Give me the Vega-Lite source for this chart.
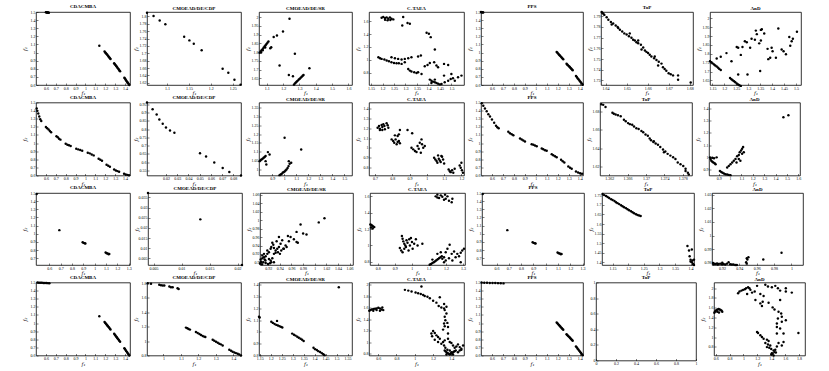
{
"$schema":"https://vega.github.io/schema/vega-lite/v6.json",
"padding":{"left":21,"top":3,"right":2,"bottom":0},
"background":"white",
"config":{
"view":{"stroke":"#000","strokeWidth":0.8},
"font":"Liberation Serif",
"title":{"fontSize":5,"fontWeight":"bold","offset":1,"font":"Liberation Serif","color":"#000"},
"axis":{"labelFontSize":4,"labelColor":"#000","tickColor":"#000","tickSize":-2,"tickWidth":0.5,"labelPadding":3,"domain":false,"grid":false,"titleFontSize":5,"titleFontStyle":"italic","titleFontWeight":"normal","titleColor":"#000","titlePadding":0,"labelFlush":false,"labelOverlap":false,"titleFont":"DejaVu Serif","labelFont":"Liberation Serif","format":"~g"},
"axisX":{"minExtent":5.5,"maxExtent":5.5},
"axisY":{"minExtent":9,"maxExtent":9},
"circle":{"size":6,"color":"#000","opacity":1}
},
"vconcat":[
{"hconcat":[
{"title":"CDACMBA","width":94,"height":73,"data":{"values":[{"x":0.6,"y":1.497},{"x":0.605,"y":1.496},{"x":0.61,"y":1.495},{"x":0.615,"y":1.494},{"x":0.62,"y":1.493},{"x":0.625,"y":1.492},{"x":0.63,"y":1.49},{"x":1.14,"y":1.083},{"x":1.193,"y":1.012},{"x":1.2,"y":1.002},{"x":1.207,"y":0.991},{"x":1.213,"y":0.982},{"x":1.22,"y":0.972},{"x":1.227,"y":0.962},{"x":1.233,"y":0.951},{"x":1.24,"y":0.941},{"x":1.247,"y":0.931},{"x":1.253,"y":0.921},{"x":1.29,"y":0.868},{"x":1.297,"y":0.857},{"x":1.303,"y":0.846},{"x":1.31,"y":0.835},{"x":1.317,"y":0.824},{"x":1.323,"y":0.813},{"x":1.33,"y":0.802},{"x":1.337,"y":0.791},{"x":1.343,"y":0.78},{"x":1.35,"y":0.769},{"x":1.393,"y":0.69},{"x":1.399,"y":0.679},{"x":1.405,"y":0.668},{"x":1.411,"y":0.657},{"x":1.418,"y":0.645},{"x":1.424,"y":0.634},{"x":1.43,"y":0.623},{"x":1.437,"y":0.612},{"x":1.443,"y":0.601}]},
"mark":"circle","encoding":{"x":{"field":"x","type":"quantitative","title":"f₁","scale":{"domain":[0.5,1.45],"nice":false},"axis":{"values":[0.6,0.7,0.8,0.9,1,1.1,1.2,1.3,1.4]}},"y":{"field":"y","type":"quantitative","title":"f₂","scale":{"domain":[0.6,1.5],"nice":false},"axis":{"values":[0.6,0.7,0.8,0.9,1,1.1,1.2,1.3,1.4,1.5]}}}},
{"title":"CMOEAD/DE/CDP","width":94,"height":73,"data":{"values":[{"x":1.054,"y":1.81},{"x":1.069,"y":1.801},{"x":1.083,"y":1.789},{"x":1.096,"y":1.779},{"x":1.139,"y":1.745},{"x":1.151,"y":1.735},{"x":1.161,"y":1.726},{"x":1.179,"y":1.708},{"x":1.227,"y":1.658},{"x":1.24,"y":1.647},{"x":1.254,"y":1.628},{"x":1.268,"y":1.615}]},
"mark":"circle","encoding":{"x":{"field":"x","type":"quantitative","title":"f₁","scale":{"domain":[1.054,1.269],"nice":false},"axis":{"values":[1.1,1.15,1.2,1.25]}},"y":{"field":"y","type":"quantitative","title":"f₂","scale":{"domain":[1.614,1.812],"nice":false},"axis":{"values":[1.62,1.64,1.66,1.68,1.7,1.72,1.74,1.76,1.78,1.8]}}}},
{"title":"CMOEAD/DE/SR","width":93,"height":73,"data":{"values":[{"x":1.056,"y":1.796},{"x":1.062,"y":1.803},{"x":1.068,"y":1.81},{"x":1.074,"y":1.817},{"x":1.08,"y":1.825},{"x":1.086,"y":1.832},{"x":1.092,"y":1.839},{"x":1.098,"y":1.846},{"x":1.104,"y":1.853},{"x":1.11,"y":1.86},{"x":1.065,"y":1.798},{"x":1.075,"y":1.81},{"x":1.09,"y":1.826},{"x":1.121,"y":1.822},{"x":1.127,"y":1.828},{"x":1.142,"y":1.886},{"x":1.162,"y":1.895},{"x":1.199,"y":1.918},{"x":1.239,"y":1.991},{"x":1.272,"y":1.79},{"x":1.178,"y":1.723},{"x":1.235,"y":1.669},{"x":1.26,"y":1.662},{"x":1.361,"y":1.708},{"x":1.266,"y":1.614},{"x":1.272,"y":1.62},{"x":1.278,"y":1.626},{"x":1.284,"y":1.632},{"x":1.29,"y":1.637},{"x":1.296,"y":1.643},{"x":1.302,"y":1.648},{"x":1.308,"y":1.654},{"x":1.314,"y":1.659},{"x":1.32,"y":1.665},{"x":1.325,"y":1.669}]},
"mark":"circle","encoding":{"x":{"field":"x","type":"quantitative","title":"f₁","scale":{"domain":[1.052,1.622],"nice":false},"axis":{"values":[1.1,1.2,1.3,1.4,1.5,1.6]}},"y":{"field":"y","type":"quantitative","title":"f₂","scale":{"domain":[1.612,2.029],"nice":false},"axis":{"values":[1.65,1.7,1.75,1.8,1.85,1.9,1.95,2]}}}},
{"title":"C-TAEA","width":95,"height":73,"data":{"values":[{"x":1.196,"y":1.652},{"x":1.203,"y":1.662},{"x":1.211,"y":1.647},{"x":1.218,"y":1.657},{"x":1.225,"y":1.637},{"x":1.232,"y":1.657},{"x":1.239,"y":1.637},{"x":1.247,"y":1.626},{"x":1.222,"y":1.611},{"x":1.234,"y":1.616},{"x":1.211,"y":1.621},{"x":1.29,"y":1.662},{"x":1.286,"y":1.533},{"x":1.309,"y":1.569},{"x":1.319,"y":1.559},{"x":1.392,"y":1.419},{"x":1.402,"y":1.404},{"x":1.41,"y":1.352},{"x":1.428,"y":1.161},{"x":1.182,"y":1.042},{"x":1.189,"y":1.027},{"x":1.196,"y":1.016},{"x":1.208,"y":1.006},{"x":1.218,"y":0.99},{"x":1.228,"y":0.98},{"x":1.239,"y":0.965},{"x":1.25,"y":0.954},{"x":1.261,"y":0.949},{"x":1.271,"y":0.949},{"x":1.239,"y":1.042},{"x":1.254,"y":1.027},{"x":1.268,"y":1.016},{"x":1.283,"y":1.006},{"x":1.297,"y":1.016},{"x":1.312,"y":1.027},{"x":1.326,"y":1.042},{"x":1.355,"y":1.052},{"x":1.367,"y":1.068},{"x":1.283,"y":0.939},{"x":1.297,"y":0.965},{"x":1.312,"y":0.861},{"x":1.319,"y":0.835},{"x":1.326,"y":0.82},{"x":1.338,"y":0.809},{"x":1.348,"y":0.799},{"x":1.355,"y":0.809},{"x":1.37,"y":0.784},{"x":1.384,"y":0.902},{"x":1.396,"y":0.923},{"x":1.406,"y":0.954},{"x":1.425,"y":0.965},{"x":1.435,"y":0.913},{"x":1.442,"y":0.887},{"x":1.468,"y":0.939},{"x":1.486,"y":0.923},{"x":1.406,"y":0.696},{"x":1.413,"y":0.68},{"x":1.42,"y":0.665},{"x":1.428,"y":0.654},{"x":1.435,"y":0.644},{"x":1.442,"y":0.634},{"x":1.449,"y":0.623},{"x":1.457,"y":0.628},{"x":1.471,"y":0.654},{"x":1.486,"y":0.68},{"x":1.497,"y":0.706},{"x":1.507,"y":0.716},{"x":1.515,"y":0.68},{"x":1.529,"y":0.732},{"x":1.544,"y":0.758},{"x":1.5,"y":0.784},{"x":1.468,"y":0.758},{"x":1.413,"y":0.644},{"x":1.428,"y":0.696}]},
"mark":"circle","encoding":{"x":{"field":"x","type":"quantitative","title":"f₁","scale":{"domain":[1.141,1.555],"nice":false},"axis":{"values":[1.15,1.2,1.25,1.3,1.35,1.4,1.45,1.5]}},"y":{"field":"y","type":"quantitative","title":"f₂","scale":{"domain":[0.613,1.74],"nice":false},"axis":{"values":[0.8,1,1.2,1.4,1.6]}}}},
{"title":"PPS","width":102,"height":73,"data":{"values":[{"x":0.5,"y":1.5},{"x":0.505,"y":1.498},{"x":0.51,"y":1.497},{"x":0.515,"y":1.496},{"x":0.52,"y":1.495},{"x":1.19,"y":1.007},{"x":1.197,"y":0.997},{"x":1.203,"y":0.987},{"x":1.21,"y":0.977},{"x":1.217,"y":0.967},{"x":1.223,"y":0.957},{"x":1.23,"y":0.947},{"x":1.237,"y":0.937},{"x":1.243,"y":0.927},{"x":1.25,"y":0.917},{"x":1.28,"y":0.863},{"x":1.286,"y":0.854},{"x":1.292,"y":0.845},{"x":1.298,"y":0.836},{"x":1.305,"y":0.827},{"x":1.311,"y":0.818},{"x":1.317,"y":0.809},{"x":1.323,"y":0.8},{"x":1.33,"y":0.79},{"x":1.336,"y":0.781},{"x":1.366,"y":0.711},{"x":1.374,"y":0.698},{"x":1.381,"y":0.684},{"x":1.389,"y":0.671},{"x":1.397,"y":0.657},{"x":1.404,"y":0.644},{"x":1.412,"y":0.631},{"x":1.42,"y":0.617},{"x":1.427,"y":0.604}]},
"mark":"circle","encoding":{"x":{"field":"x","type":"quantitative","title":"f₁","scale":{"domain":[0.5,1.43],"nice":false},"axis":{"values":[0.6,0.7,0.8,0.9,1,1.1,1.2,1.3,1.4]}},"y":{"field":"y","type":"quantitative","title":"f₂","scale":{"domain":[0.6,1.5],"nice":false},"axis":{"values":[0.6,0.7,0.8,0.9,1,1.1,1.2,1.3,1.4,1.5]}}}},
{"title":"ToP","width":92,"height":73,"data":{"values":[{"x":1.6381,"y":1.794},{"x":1.6384,"y":1.7933},{"x":1.6389,"y":1.7923},{"x":1.6394,"y":1.7913},{"x":1.6405,"y":1.789},{"x":1.6413,"y":1.7867},{"x":1.6425,"y":1.7847},{"x":1.6436,"y":1.7833},{"x":1.6448,"y":1.7813},{"x":1.6457,"y":1.78},{"x":1.6468,"y":1.7773},{"x":1.6479,"y":1.7757},{"x":1.6489,"y":1.774},{"x":1.65,"y":1.773},{"x":1.6511,"y":1.7713},{"x":1.6523,"y":1.77},{"x":1.6531,"y":1.768},{"x":1.6539,"y":1.7673},{"x":1.6547,"y":1.7657},{"x":1.6555,"y":1.7647},{"x":1.6568,"y":1.7633},{"x":1.6579,"y":1.7607},{"x":1.6587,"y":1.758},{"x":1.6594,"y":1.7567},{"x":1.6602,"y":1.7557},{"x":1.661,"y":1.754},{"x":1.6618,"y":1.7524},{"x":1.6631,"y":1.7507},{"x":1.6642,"y":1.749},{"x":1.6653,"y":1.7474},{"x":1.6666,"y":1.7457},{"x":1.6673,"y":1.7424},{"x":1.6681,"y":1.7407},{"x":1.6689,"y":1.739},{"x":1.67,"y":1.7367},{"x":1.671,"y":1.7357},{"x":1.6721,"y":1.7347},{"x":1.6745,"y":1.7347},{"x":1.6745,"y":1.7307},{"x":1.6805,"y":1.728},{"x":1.6429,"y":1.7823},{"x":1.6515,"y":1.774},{"x":1.6571,"y":1.759},{"x":1.6634,"y":1.7524},{"x":1.646,"y":1.779},{"x":1.6555,"y":1.7673},{"x":1.665,"y":1.744}]},
"mark":"circle","encoding":{"x":{"field":"x","type":"quantitative","title":"f₁","scale":{"domain":[1.6378,1.6816],"nice":false},"axis":{"values":[1.64,1.65,1.66,1.67,1.68]}},"y":{"field":"y","type":"quantitative","title":"f₂","scale":{"domain":[1.7257,1.794],"nice":false},"axis":{"values":[1.73,1.74,1.75,1.76,1.77,1.78,1.79]}}}},
{"title":"AnD","width":91,"height":73,"data":{"values":[{"x":1.14,"y":1.758},{"x":1.146,"y":1.752},{"x":1.151,"y":1.746},{"x":1.157,"y":1.74},{"x":1.162,"y":1.734},{"x":1.168,"y":1.728},{"x":1.174,"y":1.721},{"x":1.179,"y":1.715},{"x":1.185,"y":1.709},{"x":1.224,"y":1.663},{"x":1.23,"y":1.657},{"x":1.235,"y":1.651},{"x":1.241,"y":1.645},{"x":1.246,"y":1.639},{"x":1.252,"y":1.633},{"x":1.258,"y":1.627},{"x":1.263,"y":1.623},{"x":1.269,"y":1.619},{"x":1.168,"y":1.774},{"x":1.185,"y":1.784},{"x":1.209,"y":1.804},{"x":1.23,"y":1.758},{"x":1.252,"y":1.838},{"x":1.258,"y":1.834},{"x":1.276,"y":1.838},{"x":1.269,"y":1.794},{"x":1.286,"y":1.871},{"x":1.294,"y":1.865},{"x":1.308,"y":1.834},{"x":1.314,"y":1.885},{"x":1.328,"y":1.879},{"x":1.332,"y":1.931},{"x":1.336,"y":1.911},{"x":1.353,"y":1.935},{"x":1.357,"y":1.939},{"x":1.346,"y":1.859},{"x":1.353,"y":1.875},{"x":1.367,"y":1.915},{"x":1.384,"y":1.77},{"x":1.392,"y":1.778},{"x":1.381,"y":1.828},{"x":1.398,"y":1.834},{"x":1.402,"y":1.814},{"x":1.426,"y":1.943},{"x":1.44,"y":1.824},{"x":1.448,"y":1.814},{"x":1.458,"y":1.798},{"x":1.416,"y":1.778},{"x":1.35,"y":1.703},{"x":1.297,"y":1.683},{"x":1.258,"y":1.683},{"x":1.472,"y":1.895},{"x":1.476,"y":1.845},{"x":1.482,"y":1.871},{"x":1.487,"y":1.885},{"x":1.504,"y":1.925}]},
"mark":"circle","encoding":{"x":{"field":"x","type":"quantitative","title":"f₁","scale":{"domain":[1.14,1.521],"nice":false},"axis":{"values":[1.15,1.2,1.25,1.3,1.35,1.4,1.45,1.5]}},"y":{"field":"y","type":"quantitative","title":"f₂","scale":{"domain":[1.624,2.036],"nice":false},"axis":{"values":[1.65,1.7,1.75,1.8,1.85,1.9,1.95,2]}}}}
],"spacing":1},
{"hconcat":[
{"title":"CDACMBA","width":94,"height":73,"data":{"values":[{"x":0.507,"y":1.426},{"x":0.513,"y":1.397},{"x":0.523,"y":1.364},{"x":0.533,"y":1.327},{"x":0.543,"y":1.294},{"x":0.553,"y":1.273},{"x":0.6,"y":1.199},{"x":0.613,"y":1.182},{"x":0.627,"y":1.166},{"x":0.64,"y":1.149},{"x":0.653,"y":1.133},{"x":0.707,"y":1.083},{"x":0.72,"y":1.071},{"x":0.733,"y":1.054},{"x":0.747,"y":1.042},{"x":0.8,"y":0.992},{"x":0.817,"y":0.98},{"x":0.833,"y":0.972},{"x":0.85,"y":0.963},{"x":0.907,"y":0.93},{"x":0.927,"y":0.922},{"x":0.947,"y":0.914},{"x":0.967,"y":0.906},{"x":1.023,"y":0.881},{"x":1.043,"y":0.873},{"x":1.063,"y":0.86},{"x":1.083,"y":0.848},{"x":1.133,"y":0.806},{"x":1.15,"y":0.794},{"x":1.167,"y":0.782},{"x":1.213,"y":0.732},{"x":1.23,"y":0.72},{"x":1.247,"y":0.707},{"x":1.29,"y":0.674},{"x":1.307,"y":0.662},{"x":1.323,"y":0.654},{"x":1.34,"y":0.646},{"x":1.39,"y":0.621},{"x":1.407,"y":0.612},{"x":1.423,"y":0.608},{"x":1.44,"y":0.604}]},
"mark":"circle","encoding":{"x":{"field":"x","type":"quantitative","title":"f₁","scale":{"domain":[0.5,1.45],"nice":false},"axis":{"values":[0.6,0.7,0.8,0.9,1,1.1,1.2,1.3,1.4]}},"y":{"field":"y","type":"quantitative","title":"f₂","scale":{"domain":[0.6,1.5],"nice":false},"axis":{"values":[0.6,0.7,0.8,0.9,1,1.1,1.2,1.3,1.4,1.5]}}}},
{"title":"CMOEAD/DE/CDP","width":94,"height":73,"data":{"values":[{"x":0.0031,"y":0.96},{"x":0.0081,"y":0.919},{"x":0.0117,"y":0.888},{"x":0.0141,"y":0.857},{"x":0.0171,"y":0.832},{"x":0.02,"y":0.809},{"x":0.0236,"y":0.791},{"x":0.0275,"y":0.778},{"x":0.0503,"y":0.654},{"x":0.0557,"y":0.634},{"x":0.063,"y":0.598},{"x":0.0705,"y":0.565},{"x":0.0764,"y":0.541},{"x":0.0868,"y":0.52}]},
"mark":"circle","encoding":{"x":{"field":"x","type":"quantitative","title":"f₁","scale":{"domain":[0.0031,0.0868],"nice":false},"axis":{"values":[0.02,0.03,0.04,0.05,0.06,0.07,0.08]}},"y":{"field":"y","type":"quantitative","title":"f₂","scale":{"domain":[0.52,0.96],"nice":false},"axis":{"values":[0.55,0.6,0.65,0.7,0.75,0.8,0.85,0.9,0.95]}}}},
{"title":"CMOEAD/DE/SR","width":93,"height":73,"data":{"values":[{"x":0.795,"y":1.047},{"x":0.804,"y":1.053},{"x":0.812,"y":1.057},{"x":0.82,"y":1.06},{"x":0.829,"y":1.066},{"x":0.837,"y":1.07},{"x":0.845,"y":1.076},{"x":0.845,"y":1.047},{"x":0.864,"y":1.098},{"x":0.878,"y":1.085},{"x":0.851,"y":1.028},{"x":1.003,"y":1.179},{"x":1.141,"y":1.113},{"x":0.961,"y":0.968},{"x":0.97,"y":0.972},{"x":0.978,"y":0.975},{"x":0.987,"y":0.981},{"x":0.994,"y":0.985},{"x":1.003,"y":0.989},{"x":1.011,"y":0.994},{"x":1.019,"y":1},{"x":1.028,"y":1.008},{"x":1.036,"y":1.019},{"x":1.045,"y":1.032},{"x":1.058,"y":1.038},{"x":1.038,"y":1.047}]},
"mark":"circle","encoding":{"x":{"field":"x","type":"quantitative","title":"f₁","scale":{"domain":[0.79,1.564],"nice":false},"axis":{"values":[0.9,1,1.1,1.2,1.3,1.4,1.5]}},"y":{"field":"y","type":"quantitative","title":"f₂","scale":{"domain":[0.966,1.378],"nice":false},"axis":{"values":[1,1.05,1.1,1.15,1.2,1.25,1.3,1.35]}}}},
{"title":"C-TAEA","width":95,"height":73,"data":{"values":[{"x":0.715,"y":1.205},{"x":0.723,"y":1.222},{"x":0.728,"y":1.195},{"x":0.738,"y":1.233},{"x":0.742,"y":1.212},{"x":0.748,"y":1.239},{"x":0.754,"y":1.222},{"x":0.757,"y":1.188},{"x":0.767,"y":1.25},{"x":0.773,"y":1.229},{"x":0.777,"y":1.205},{"x":0.728,"y":1.182},{"x":0.742,"y":1.182},{"x":0.844,"y":1.182},{"x":0.888,"y":1.182},{"x":0.915,"y":1.148},{"x":0.796,"y":1.086},{"x":0.805,"y":1.069},{"x":0.811,"y":1.053},{"x":0.819,"y":1.086},{"x":0.825,"y":1.036},{"x":0.831,"y":1.06},{"x":0.838,"y":1.069},{"x":0.844,"y":1.046},{"x":0.831,"y":1.12},{"x":0.838,"y":1.137},{"x":0.815,"y":1.127},{"x":0.911,"y":1.002},{"x":0.921,"y":0.985},{"x":0.931,"y":0.968},{"x":0.94,"y":0.958},{"x":0.946,"y":1.019},{"x":0.953,"y":0.992},{"x":0.965,"y":0.951},{"x":0.972,"y":1.036},{"x":0.979,"y":1.002},{"x":0.988,"y":1.019},{"x":0.969,"y":1.086},{"x":0.959,"y":1.053},{"x":1.042,"y":0.9},{"x":1.049,"y":0.883},{"x":1.056,"y":0.866},{"x":1.061,"y":0.849},{"x":1.069,"y":0.89},{"x":1.075,"y":0.873},{"x":1.08,"y":0.856},{"x":1.088,"y":0.91},{"x":1.094,"y":0.883},{"x":1.1,"y":0.842},{"x":1.065,"y":0.924},{"x":1.084,"y":0.917},{"x":1.126,"y":0.781},{"x":1.133,"y":0.764},{"x":1.138,"y":0.754},{"x":1.146,"y":0.774},{"x":1.153,"y":0.747},{"x":1.161,"y":0.788},{"x":1.19,"y":0.822},{"x":1.196,"y":0.798},{"x":1.203,"y":0.774},{"x":1.209,"y":0.747},{"x":1.2,"y":0.849}]},
"mark":"circle","encoding":{"x":{"field":"x","type":"quantitative","title":"f₁","scale":{"domain":[0.665,1.215],"nice":false},"axis":{"values":[0.7,0.8,0.9,1,1.1,1.2]}},"y":{"field":"y","type":"quantitative","title":"f₂","scale":{"domain":[0.72,1.46],"nice":false},"axis":{"values":[0.8,0.9,1,1.1,1.2,1.3,1.4]}}}},
{"title":"PPS","width":102,"height":73,"data":{"values":[{"x":0.506,"y":1.491},{"x":0.521,"y":1.459},{"x":0.536,"y":1.426},{"x":0.552,"y":1.393},{"x":0.567,"y":1.356},{"x":0.582,"y":1.327},{"x":0.6,"y":1.29},{"x":0.62,"y":1.25},{"x":0.637,"y":1.213},{"x":0.649,"y":1.195},{"x":0.661,"y":1.183},{"x":0.749,"y":1.139},{"x":0.764,"y":1.121},{"x":0.78,"y":1.109},{"x":0.795,"y":1.097},{"x":0.856,"y":1.056},{"x":0.871,"y":1.044},{"x":0.886,"y":1.031},{"x":0.901,"y":1.019},{"x":0.962,"y":0.986},{"x":0.977,"y":0.978},{"x":0.992,"y":0.97},{"x":1.008,"y":0.961},{"x":1.054,"y":0.933},{"x":1.068,"y":0.924},{"x":1.084,"y":0.912},{"x":1.099,"y":0.904},{"x":1.145,"y":0.863},{"x":1.159,"y":0.85},{"x":1.175,"y":0.838},{"x":1.19,"y":0.826},{"x":1.23,"y":0.793},{"x":1.245,"y":0.776},{"x":1.26,"y":0.76},{"x":1.296,"y":0.711},{"x":1.312,"y":0.695},{"x":1.327,"y":0.683},{"x":1.366,"y":0.649},{"x":1.385,"y":0.637},{"x":1.403,"y":0.628},{"x":1.421,"y":0.621}]},
"mark":"circle","encoding":{"x":{"field":"x","type":"quantitative","title":"f₁","scale":{"domain":[0.5,1.43],"nice":false},"axis":{"values":[0.6,0.7,0.8,0.9,1,1.1,1.2,1.3,1.4]}},"y":{"field":"y","type":"quantitative","title":"f₂","scale":{"domain":[0.6,1.5],"nice":false},"axis":{"values":[0.6,0.7,0.8,0.9,1,1.1,1.2,1.3,1.4,1.5]}}}},
{"title":"ToP","width":92,"height":73,"data":{"values":[{"x":1.3603,"y":1.6881},{"x":1.3607,"y":1.6874},{"x":1.3612,"y":1.6851},{"x":1.3627,"y":1.6787},{"x":1.363,"y":1.6776},{"x":1.3634,"y":1.6769},{"x":1.3639,"y":1.6761},{"x":1.3645,"y":1.675},{"x":1.3652,"y":1.6712},{"x":1.3656,"y":1.6694},{"x":1.3661,"y":1.6674},{"x":1.3665,"y":1.6663},{"x":1.367,"y":1.6656},{"x":1.3674,"y":1.6637},{"x":1.3679,"y":1.6618},{"x":1.3684,"y":1.661},{"x":1.369,"y":1.6588},{"x":1.3694,"y":1.6574},{"x":1.3699,"y":1.655},{"x":1.3704,"y":1.6536},{"x":1.3708,"y":1.6506},{"x":1.3711,"y":1.6487},{"x":1.3716,"y":1.6468},{"x":1.3721,"y":1.645},{"x":1.3726,"y":1.6438},{"x":1.3731,"y":1.6412},{"x":1.3737,"y":1.6386},{"x":1.3742,"y":1.6363},{"x":1.3747,"y":1.6337},{"x":1.3753,"y":1.6318},{"x":1.3759,"y":1.6299},{"x":1.3764,"y":1.628},{"x":1.3769,"y":1.6242},{"x":1.3775,"y":1.6224},{"x":1.3781,"y":1.6205},{"x":1.3786,"y":1.6175},{"x":1.3791,"y":1.613},{"x":1.3793,"y":1.6111},{"x":1.3786,"y":1.6149},{"x":1.3739,"y":1.6355},{"x":1.3717,"y":1.6475}]},
"mark":"circle","encoding":{"x":{"field":"x","type":"quantitative","title":"f₁","scale":{"domain":[1.36,1.38],"nice":false},"axis":{"values":[1.362,1.366,1.37,1.374,1.378]}},"y":{"field":"y","type":"quantitative","title":"f₂","scale":{"domain":[1.61,1.69],"nice":false},"axis":{"values":[1.62,1.64,1.66,1.68]}}}},
{"title":"AnD","width":91,"height":73,"data":{"values":[{"x":0.824,"y":0.999},{"x":0.829,"y":0.985},{"x":0.835,"y":0.971},{"x":0.844,"y":0.963},{"x":0.853,"y":0.957},{"x":0.865,"y":0.951},{"x":0.873,"y":0.943},{"x":0.844,"y":0.996},{"x":0.859,"y":0.991},{"x":0.882,"y":0.999},{"x":0.911,"y":0.887},{"x":0.923,"y":0.878},{"x":0.934,"y":0.873},{"x":0.946,"y":0.867},{"x":0.96,"y":0.861},{"x":0.975,"y":0.858},{"x":0.989,"y":0.855},{"x":1.004,"y":0.853},{"x":0.975,"y":0.915},{"x":0.989,"y":0.929},{"x":1.004,"y":0.943},{"x":1.019,"y":0.957},{"x":1.033,"y":0.971},{"x":1.048,"y":0.985},{"x":1.062,"y":1.008},{"x":1.077,"y":1.019},{"x":1.085,"y":1.041},{"x":1.097,"y":1.056},{"x":1.106,"y":1.07},{"x":1.115,"y":1.084},{"x":1.106,"y":1.028},{"x":1.077,"y":0.985},{"x":1.091,"y":0.971},{"x":1.057,"y":0.957},{"x":1.121,"y":1.041},{"x":1.469,"y":1.329},{"x":1.513,"y":1.346}]},
"mark":"circle","encoding":{"x":{"field":"x","type":"quantitative","title":"f₁","scale":{"domain":[0.815,1.615],"nice":false},"axis":{"values":[0.9,1,1.1,1.2,1.3,1.4,1.5,1.6]}},"y":{"field":"y","type":"quantitative","title":"f₂","scale":{"domain":[0.85,1.45],"nice":false},"axis":{"values":[0.9,1,1.1,1.2,1.3,1.4]}}}}
],"spacing":1},
{"hconcat":[
{"title":"CDACMBA","width":94,"height":72,"data":{"values":[{"x":0.488,"y":1.488},{"x":0.688,"y":1.045},{"x":0.894,"y":0.897},{"x":0.903,"y":0.889},{"x":0.912,"y":0.885},{"x":0.918,"y":0.881},{"x":1.097,"y":0.77},{"x":1.106,"y":0.762},{"x":1.115,"y":0.758},{"x":1.124,"y":0.75},{"x":1.129,"y":0.754}]},
"mark":"circle","encoding":{"x":{"field":"x","type":"quantitative","title":"f₁","scale":{"domain":[0.482,1.312],"nice":false},"axis":{"values":[0.6,0.7,0.8,0.9,1,1.1,1.2,1.3]}},"y":{"field":"y","type":"quantitative","title":"f₂","scale":{"domain":[0.618,1.5],"nice":false},"axis":{"values":[0.7,0.8,0.9,1,1.1,1.2,1.3,1.4,1.5]}}}},
{"title":"CMOEAD/DE/CDP","width":94,"height":72,"data":{"values":[{"x":0.004,"y":0.0372},{"x":0.01335,"y":0.0242},{"x":0.0208,"y":0.0017}]},
"mark":"circle","encoding":{"x":{"field":"x","type":"quantitative","title":"f₁","scale":{"domain":[0.004,0.0208],"nice":false},"axis":{"values":[0.005,0.01,0.015,0.02]}},"y":{"field":"y","type":"quantitative","title":"f₂","scale":{"domain":[0.0017,0.0372],"nice":false},"axis":{"values":[0.005,0.01,0.015,0.02,0.025,0.03,0.035]}}}},
{"title":"CMOEAD/DE/SR","width":93,"height":72,"data":{"values":[{"x":1.0169,"y":1.0042},{"x":1.0071,"y":0.9946},{"x":0.9758,"y":0.9897},{"x":0.9689,"y":0.9722},{"x":0.9802,"y":0.9683},{"x":0.986,"y":0.9659},{"x":0.9586,"y":0.9603},{"x":0.954,"y":0.9627},{"x":0.9643,"y":0.9547},{"x":0.9689,"y":0.9482},{"x":0.9711,"y":0.9467},{"x":0.9557,"y":0.9499},{"x":0.95,"y":0.9403},{"x":0.9414,"y":0.9443},{"x":0.9386,"y":0.9363},{"x":0.946,"y":0.9323},{"x":0.9357,"y":0.9323},{"x":0.9329,"y":0.9283},{"x":0.93,"y":0.934},{"x":0.9272,"y":0.9467},{"x":0.9289,"y":0.9419},{"x":0.9254,"y":0.9363},{"x":0.9243,"y":0.9323},{"x":0.9214,"y":0.9243},{"x":0.9186,"y":0.9203},{"x":0.9158,"y":0.9147},{"x":0.9129,"y":0.9124},{"x":0.91,"y":0.91},{"x":0.9071,"y":0.9068},{"x":0.9083,"y":0.902},{"x":0.9117,"y":0.9004},{"x":0.9158,"y":0.8988},{"x":0.9197,"y":0.8964},{"x":0.9231,"y":0.898},{"x":0.9243,"y":0.9044},{"x":0.9272,"y":0.91},{"x":0.93,"y":0.9203},{"x":0.9329,"y":0.9227},{"x":0.9369,"y":0.9243},{"x":0.9403,"y":0.9203},{"x":0.9426,"y":0.9283},{"x":0.9214,"y":0.9084},{"x":0.9154,"y":0.9044},{"x":0.914,"y":0.9068},{"x":0.9186,"y":0.9283},{"x":0.9129,"y":0.9203},{"x":0.91,"y":0.9163},{"x":0.9071,"y":0.9004},{"x":0.9094,"y":0.8956},{"x":0.906,"y":0.8972},{"x":0.9442,"y":0.9523},{"x":0.9346,"y":0.9499},{"x":0.9386,"y":0.9603},{"x":0.9471,"y":0.9323},{"x":0.9518,"y":0.9363},{"x":0.9254,"y":0.9004},{"x":0.93,"y":0.9004}]},
"mark":"circle","encoding":{"x":{"field":"x","type":"quantitative","title":"f₁","scale":{"domain":[0.906,1.066],"nice":false},"axis":{"values":[0.92,0.94,0.96,0.98,1,1.02,1.04,1.06]}},"y":{"field":"y","type":"quantitative","title":"f₂","scale":{"domain":[0.894,1.064],"nice":false},"axis":{"values":[0.9,0.92,0.94,0.96,0.98,1,1.02,1.04,1.06]}}}},
{"title":"C-TAEA","width":95,"height":72,"data":{"values":[{"x":0.757,"y":1.256},{"x":0.763,"y":1.248},{"x":0.768,"y":1.239},{"x":0.774,"y":1.231},{"x":0.78,"y":1.223},{"x":0.761,"y":1.219},{"x":0.771,"y":1.206},{"x":0.942,"y":1.115},{"x":0.946,"y":1.082},{"x":0.95,"y":1.049},{"x":0.956,"y":1.02},{"x":0.962,"y":0.999},{"x":0.969,"y":1.062},{"x":0.975,"y":1.033},{"x":0.985,"y":1.074},{"x":0.995,"y":1.091},{"x":1.001,"y":1.041},{"x":1.014,"y":1.02},{"x":1.024,"y":1.074},{"x":1.034,"y":0.999},{"x":1.062,"y":1.02},{"x":0.93,"y":0.967},{"x":0.938,"y":0.938},{"x":0.946,"y":0.917},{"x":0.956,"y":0.958},{"x":0.966,"y":0.979},{"x":0.989,"y":0.999},{"x":0.981,"y":0.938},{"x":1.005,"y":0.958},{"x":1.14,"y":1.599},{"x":1.15,"y":1.586},{"x":1.16,"y":1.578},{"x":1.17,"y":1.611},{"x":1.179,"y":1.594},{"x":1.189,"y":1.557},{"x":1.199,"y":1.57},{"x":1.209,"y":1.599},{"x":1.218,"y":1.545},{"x":1.234,"y":1.528},{"x":1.238,"y":1.57},{"x":1.15,"y":1.62},{"x":1.195,"y":1.62},{"x":1.105,"y":0.764},{"x":1.113,"y":0.772},{"x":1.121,"y":0.785},{"x":1.129,"y":0.793},{"x":1.137,"y":0.806},{"x":1.144,"y":0.818},{"x":1.152,"y":0.83},{"x":1.16,"y":0.843},{"x":1.168,"y":0.855},{"x":1.176,"y":0.867},{"x":1.179,"y":0.835},{"x":1.189,"y":0.855},{"x":1.199,"y":0.917},{"x":1.209,"y":0.958},{"x":1.222,"y":1.008},{"x":1.234,"y":0.896},{"x":1.248,"y":0.925},{"x":1.257,"y":0.855},{"x":1.267,"y":0.896},{"x":1.277,"y":0.867},{"x":1.287,"y":0.909},{"x":1.296,"y":0.938},{"x":1.306,"y":0.958},{"x":1.199,"y":0.814},{"x":1.218,"y":0.843},{"x":1.15,"y":0.896},{"x":1.17,"y":0.917},{"x":1.121,"y":0.826},{"x":1.189,"y":0.793},{"x":1.238,"y":0.814},{"x":1.287,"y":0.793}]},
"mark":"circle","encoding":{"x":{"field":"x","type":"quantitative","title":"f₁","scale":{"domain":[0.755,1.312],"nice":false},"axis":{"values":[0.8,0.9,1,1.1,1.2,1.3]}},"y":{"field":"y","type":"quantitative","title":"f₂","scale":{"domain":[0.76,1.64],"nice":false},"axis":{"values":[0.8,1,1.2,1.4,1.6]}}}},
{"title":"PPS","width":102,"height":72,"data":{"values":[{"x":0.488,"y":1.488},{"x":0.688,"y":1.045},{"x":0.894,"y":0.897},{"x":0.903,"y":0.889},{"x":0.912,"y":0.885},{"x":0.918,"y":0.881},{"x":1.097,"y":0.77},{"x":1.106,"y":0.762},{"x":1.115,"y":0.758},{"x":1.124,"y":0.75},{"x":1.129,"y":0.754}]},
"mark":"circle","encoding":{"x":{"field":"x","type":"quantitative","title":"f₁","scale":{"domain":[0.482,1.312],"nice":false},"axis":{"values":[0.6,0.7,0.8,0.9,1,1.1,1.2,1.3]}},"y":{"field":"y","type":"quantitative","title":"f₂","scale":{"domain":[0.618,1.5],"nice":false},"axis":{"values":[0.7,0.8,0.9,1,1.1,1.2,1.3,1.4,1.5]}}}},
{"title":"ToP","width":92,"height":72,"data":{"values":[{"x":1.118,"y":1.757},{"x":1.123,"y":1.751},{"x":1.129,"y":1.746},{"x":1.134,"y":1.741},{"x":1.139,"y":1.736},{"x":1.145,"y":1.73},{"x":1.15,"y":1.725},{"x":1.156,"y":1.72},{"x":1.161,"y":1.714},{"x":1.166,"y":1.709},{"x":1.171,"y":1.704},{"x":1.177,"y":1.698},{"x":1.182,"y":1.693},{"x":1.187,"y":1.688},{"x":1.193,"y":1.683},{"x":1.198,"y":1.677},{"x":1.203,"y":1.672},{"x":1.209,"y":1.667},{"x":1.214,"y":1.661},{"x":1.219,"y":1.656},{"x":1.225,"y":1.651},{"x":1.23,"y":1.647},{"x":1.235,"y":1.644},{"x":1.24,"y":1.642},{"x":1.39,"y":1.485},{"x":1.395,"y":1.462},{"x":1.404,"y":1.467},{"x":1.397,"y":1.432},{"x":1.4,"y":1.414},{"x":1.406,"y":1.409},{"x":1.411,"y":1.414},{"x":1.404,"y":1.4},{"x":1.408,"y":1.391},{"x":1.411,"y":1.386},{"x":1.4,"y":1.404}]},
"mark":"circle","encoding":{"x":{"field":"x","type":"quantitative","title":"f₁","scale":{"domain":[1.116,1.411],"nice":false},"axis":{"values":[1.15,1.2,1.25,1.3,1.35,1.4]}},"y":{"field":"y","type":"quantitative","title":"f₂","scale":{"domain":[1.386,1.762],"nice":false},"axis":{"values":[1.4,1.45,1.5,1.55,1.6,1.65,1.7,1.75]}}}},
{"title":"AnD","width":91,"height":72,"data":{"values":[{"x":0.9098,"y":0.98},{"x":0.9112,"y":0.9795},{"x":0.9128,"y":0.9792},{"x":0.9144,"y":0.9797},{"x":0.9162,"y":0.9792},{"x":0.9181,"y":0.9795},{"x":0.92,"y":0.979},{"x":0.9219,"y":0.9792},{"x":0.9238,"y":0.9788},{"x":0.9258,"y":0.9795},{"x":0.9277,"y":0.9805},{"x":0.9295,"y":0.979},{"x":0.9314,"y":0.9788},{"x":0.9333,"y":0.9788},{"x":0.9353,"y":0.9785},{"x":0.9372,"y":0.9785},{"x":0.9105,"y":0.979},{"x":0.9151,"y":0.9788},{"x":0.9204,"y":0.9802},{"x":0.9486,"y":0.9835},{"x":0.9493,"y":0.9825},{"x":0.9505,"y":0.9842},{"x":0.9479,"y":0.9805},{"x":0.9486,"y":0.9795},{"x":0.9676,"y":0.9825},{"x":0.9886,"y":0.9874}]},
"mark":"circle","encoding":{"x":{"field":"x","type":"quantitative","title":"f₁","scale":{"domain":[0.9086,1.0133],"nice":false},"axis":{"values":[0.92,0.94,0.96,0.98,1]}},"y":{"field":"y","type":"quantitative","title":"f₂","scale":{"domain":[0.9785,1.0312],"nice":false},"axis":{"values":[0.98,0.99,1,1.01,1.02,1.03]}}}}
],"spacing":1},
{"hconcat":[
{"title":"CDACMBA","width":94,"height":73,"data":{"values":[{"x":0.515,"y":1.5},{"x":0.53,"y":1.498},{"x":0.545,"y":1.497},{"x":0.56,"y":1.496},{"x":0.575,"y":1.495},{"x":0.59,"y":1.494},{"x":0.605,"y":1.493},{"x":0.62,"y":1.492},{"x":0.635,"y":1.49},{"x":1.14,"y":1.083},{"x":1.193,"y":1.012},{"x":1.2,"y":1.002},{"x":1.207,"y":0.991},{"x":1.213,"y":0.982},{"x":1.22,"y":0.972},{"x":1.227,"y":0.962},{"x":1.233,"y":0.951},{"x":1.24,"y":0.941},{"x":1.247,"y":0.931},{"x":1.253,"y":0.921},{"x":1.29,"y":0.868},{"x":1.297,"y":0.857},{"x":1.303,"y":0.846},{"x":1.31,"y":0.835},{"x":1.317,"y":0.824},{"x":1.323,"y":0.813},{"x":1.33,"y":0.802},{"x":1.337,"y":0.791},{"x":1.343,"y":0.78},{"x":1.35,"y":0.769},{"x":1.393,"y":0.69},{"x":1.399,"y":0.679},{"x":1.405,"y":0.668},{"x":1.411,"y":0.657},{"x":1.418,"y":0.645},{"x":1.424,"y":0.634},{"x":1.43,"y":0.623},{"x":1.437,"y":0.612},{"x":1.443,"y":0.601}]},
"mark":"circle","encoding":{"x":{"field":"x","type":"quantitative","title":"f₁","scale":{"domain":[0.5,1.45],"nice":false},"axis":{"values":[0.6,0.7,0.8,0.9,1,1.1,1.2,1.3,1.4]}},"y":{"field":"y","type":"quantitative","title":"f₂","scale":{"domain":[0.6,1.5],"nice":false},"axis":{"values":[0.6,0.7,0.8,0.9,1,1.1,1.2,1.3,1.4,1.5]}}}},
{"title":"CMOEAD/DE/CDP","width":94,"height":73,"data":{"values":[{"x":0.91,"y":1.801},{"x":0.929,"y":1.792},{"x":0.976,"y":1.778},{"x":0.986,"y":1.773},{"x":0.996,"y":1.769},{"x":1.005,"y":1.769},{"x":1.034,"y":1.754},{"x":1.043,"y":1.744},{"x":1.053,"y":1.744},{"x":1.081,"y":1.731},{"x":1.087,"y":1.721},{"x":1.129,"y":1.186},{"x":1.137,"y":1.177},{"x":1.144,"y":1.168},{"x":1.152,"y":1.158},{"x":1.186,"y":1.126},{"x":1.196,"y":1.112},{"x":1.206,"y":1.098},{"x":1.215,"y":1.084},{"x":1.225,"y":1.07},{"x":1.234,"y":1.061},{"x":1.24,"y":1.056},{"x":1.282,"y":1.019},{"x":1.291,"y":1.005},{"x":1.301,"y":0.991},{"x":1.311,"y":0.977},{"x":1.32,"y":0.963},{"x":1.329,"y":0.954},{"x":1.339,"y":0.939},{"x":1.377,"y":0.879},{"x":1.387,"y":0.865},{"x":1.396,"y":0.852},{"x":1.406,"y":0.842},{"x":1.415,"y":0.833},{"x":1.425,"y":0.823},{"x":1.434,"y":0.814},{"x":1.444,"y":0.8}]},
"mark":"circle","encoding":{"x":{"field":"x","type":"quantitative","title":"f₁","scale":{"domain":[0.906,1.444],"nice":false},"axis":{"values":[1,1.1,1.2,1.3,1.4]}},"y":{"field":"y","type":"quantitative","title":"f₂","scale":{"domain":[0.8,1.81],"nice":false},"axis":{"values":[0.8,1,1.2,1.4,1.6,1.8]}}}},
{"title":"CMOEAD/DE/SR","width":93,"height":73,"data":{"values":[{"x":1.147,"y":1.129},{"x":1.15,"y":1.123},{"x":1.203,"y":1.086},{"x":1.21,"y":1.077},{"x":1.218,"y":1.068},{"x":1.226,"y":1.06},{"x":1.233,"y":1.054},{"x":1.241,"y":1.049},{"x":1.248,"y":1.043},{"x":1.253,"y":1.037},{"x":1.229,"y":1.094},{"x":1.298,"y":0.986},{"x":1.306,"y":0.977},{"x":1.313,"y":0.969},{"x":1.321,"y":0.96},{"x":1.328,"y":0.951},{"x":1.336,"y":0.943},{"x":1.343,"y":0.934},{"x":1.35,"y":0.923},{"x":1.395,"y":0.866},{"x":1.402,"y":0.854},{"x":1.41,"y":0.846},{"x":1.417,"y":0.837},{"x":1.425,"y":0.829},{"x":1.433,"y":0.82},{"x":1.44,"y":0.811},{"x":1.445,"y":0.803},{"x":1.51,"y":1.38}]},
"mark":"circle","encoding":{"x":{"field":"x","type":"quantitative","title":"f₁","scale":{"domain":[1.147,1.57],"nice":false},"axis":{"values":[1.15,1.2,1.25,1.3,1.35,1.4,1.45,1.5,1.55]}},"y":{"field":"y","type":"quantitative","title":"f₂","scale":{"domain":[0.8,1.42],"nice":false},"axis":{"values":[0.8,0.9,1,1.1,1.2,1.3,1.4]}}}},
{"title":"C-TAEA","width":95,"height":73,"data":{"values":[{"x":0.503,"y":1.549},{"x":0.515,"y":1.56},{"x":0.529,"y":1.572},{"x":0.547,"y":1.578},{"x":0.566,"y":1.584},{"x":0.583,"y":1.59},{"x":0.602,"y":1.601},{"x":0.62,"y":1.59},{"x":0.638,"y":1.572},{"x":0.656,"y":1.56},{"x":0.547,"y":1.549},{"x":0.583,"y":1.56},{"x":0.62,"y":1.549},{"x":0.646,"y":1.607},{"x":0.893,"y":1.912},{"x":0.93,"y":1.899},{"x":0.966,"y":1.883},{"x":1.01,"y":1.865},{"x":1.038,"y":1.853},{"x":1.067,"y":1.841},{"x":1.093,"y":1.823},{"x":1.11,"y":1.806},{"x":1.14,"y":1.794},{"x":1.166,"y":1.765},{"x":1.202,"y":1.724},{"x":1.238,"y":1.69},{"x":1.263,"y":1.63},{"x":1.292,"y":1.607},{"x":1.322,"y":1.59},{"x":1.074,"y":1.97},{"x":1.275,"y":1.782},{"x":1.322,"y":1.666},{"x":1.348,"y":1.619},{"x":1.329,"y":1.56},{"x":1.348,"y":1.502},{"x":1.329,"y":1.444},{"x":1.336,"y":1.385},{"x":1.322,"y":1.327},{"x":1.329,"y":1.28},{"x":1.311,"y":1.221},{"x":1.358,"y":1.338},{"x":1.365,"y":1.268},{"x":1.202,"y":1.197},{"x":1.22,"y":1.163},{"x":1.238,"y":1.121},{"x":1.256,"y":1.092},{"x":1.275,"y":1.063},{"x":1.183,"y":1.152},{"x":1.191,"y":1.105},{"x":1.22,"y":1.046},{"x":1.256,"y":1.005},{"x":1.292,"y":0.975},{"x":1.311,"y":1.005},{"x":1.329,"y":1.034},{"x":1.365,"y":1.063},{"x":1.384,"y":1.005},{"x":1.402,"y":0.988},{"x":1.42,"y":0.946},{"x":1.438,"y":0.906},{"x":1.457,"y":0.928},{"x":1.474,"y":0.964},{"x":1.493,"y":0.917},{"x":1.511,"y":0.888},{"x":1.53,"y":0.946},{"x":1.365,"y":1.152},{"x":1.322,"y":0.946},{"x":1.336,"y":0.906},{"x":1.329,"y":0.859},{"x":1.34,"y":0.841},{"x":1.351,"y":0.823},{"x":1.362,"y":0.812},{"x":1.373,"y":0.8},{"x":1.384,"y":0.789},{"x":1.394,"y":0.8},{"x":1.406,"y":0.812},{"x":1.416,"y":0.823},{"x":1.428,"y":0.836},{"x":1.438,"y":0.847},{"x":1.45,"y":0.859},{"x":1.358,"y":0.87},{"x":1.384,"y":0.859},{"x":1.402,"y":0.829},{"x":1.348,"y":0.789},{"x":1.42,"y":0.789},{"x":1.474,"y":0.829},{"x":1.493,"y":0.859},{"x":1.511,"y":0.87}]},
"mark":"circle","encoding":{"x":{"field":"x","type":"quantitative","title":"f₁","scale":{"domain":[0.5,1.54],"nice":false},"axis":{"values":[0.6,0.8,1,1.2,1.4]}},"y":{"field":"y","type":"quantitative","title":"f₂","scale":{"domain":[0.771,2.04],"nice":false},"axis":{"values":[0.8,1,1.2,1.4,1.6,1.8,2]}}}},
{"title":"PPS","width":102,"height":73,"data":{"values":[{"x":0.505,"y":1.5},{"x":0.53,"y":1.498},{"x":0.555,"y":1.496},{"x":0.58,"y":1.495},{"x":0.605,"y":1.494},{"x":0.63,"y":1.493},{"x":0.655,"y":1.492},{"x":0.68,"y":1.49},{"x":0.705,"y":1.489},{"x":1.19,"y":1.007},{"x":1.197,"y":0.997},{"x":1.203,"y":0.987},{"x":1.21,"y":0.977},{"x":1.217,"y":0.967},{"x":1.223,"y":0.957},{"x":1.23,"y":0.947},{"x":1.237,"y":0.937},{"x":1.243,"y":0.927},{"x":1.25,"y":0.917},{"x":1.28,"y":0.863},{"x":1.286,"y":0.854},{"x":1.292,"y":0.845},{"x":1.298,"y":0.836},{"x":1.305,"y":0.827},{"x":1.311,"y":0.818},{"x":1.317,"y":0.809},{"x":1.323,"y":0.8},{"x":1.33,"y":0.79},{"x":1.336,"y":0.781},{"x":1.366,"y":0.711},{"x":1.374,"y":0.698},{"x":1.381,"y":0.684},{"x":1.389,"y":0.671},{"x":1.397,"y":0.657},{"x":1.404,"y":0.644},{"x":1.412,"y":0.631},{"x":1.42,"y":0.617},{"x":1.427,"y":0.604}]},
"mark":"circle","encoding":{"x":{"field":"x","type":"quantitative","title":"f₁","scale":{"domain":[0.5,1.43],"nice":false},"axis":{"values":[0.6,0.7,0.8,0.9,1,1.1,1.2,1.3,1.4]}},"y":{"field":"y","type":"quantitative","title":"f₂","scale":{"domain":[0.6,1.5],"nice":false},"axis":{"values":[0.6,0.7,0.8,0.9,1,1.1,1.2,1.3,1.4,1.5]}}}},
{"title":"ToP","width":100,"height":78,"data":{"values":[]},
"mark":"circle","encoding":{"x":{"field":"x","type":"quantitative","title":null,"scale":{"domain":[0,1],"nice":false},"axis":{"values":[0,0.2,0.4,0.6,0.8,1]}},"y":{"field":"y","type":"quantitative","title":null,"scale":{"domain":[0,1],"nice":false},"axis":{"values":[0,0.2,0.4,0.6,0.8,1]}}}},
{"title":"AnD","width":91,"height":73,"data":{"values":[{"x":0.581,"y":1.496},{"x":0.59,"y":1.517},{"x":0.6,"y":1.538},{"x":0.614,"y":1.552},{"x":0.628,"y":1.565},{"x":0.643,"y":1.572},{"x":0.657,"y":1.565},{"x":0.672,"y":1.552},{"x":0.686,"y":1.538},{"x":0.695,"y":1.517},{"x":0.623,"y":1.517},{"x":0.648,"y":1.504},{"x":0.923,"y":1.897},{"x":0.943,"y":1.931},{"x":0.972,"y":1.951},{"x":0.995,"y":1.966},{"x":1.019,"y":1.979},{"x":1.038,"y":2},{"x":1.067,"y":2.02},{"x":1.086,"y":2},{"x":1.1,"y":1.966},{"x":1.053,"y":1.882},{"x":1.124,"y":1.91},{"x":1.162,"y":1.931},{"x":1.196,"y":2.048},{"x":1.243,"y":1.882},{"x":1.29,"y":1.842},{"x":1.315,"y":2.069},{"x":1.353,"y":2.035},{"x":1.409,"y":2.02},{"x":1.458,"y":2.048},{"x":1.496,"y":2},{"x":1.528,"y":1.951},{"x":1.61,"y":1.931},{"x":1.61,"y":2},{"x":1.696,"y":1.91},{"x":1.172,"y":1.758},{"x":1.243,"y":1.689},{"x":1.266,"y":1.634},{"x":1.277,"y":1.724},{"x":1.362,"y":1.704},{"x":1.42,"y":1.607},{"x":1.447,"y":1.565},{"x":1.528,"y":1.758},{"x":1.505,"y":1.517},{"x":1.543,"y":1.483},{"x":1.552,"y":1.414},{"x":1.496,"y":1.379},{"x":1.481,"y":1.276},{"x":1.481,"y":1.207},{"x":1.552,"y":1.311},{"x":1.528,"y":1.173},{"x":1.481,"y":1.07},{"x":1.577,"y":1.07},{"x":1.61,"y":1.345},{"x":1.791,"y":1.083},{"x":1.196,"y":1.104},{"x":1.21,"y":1.083},{"x":1.243,"y":1.034},{"x":1.266,"y":0.999},{"x":1.29,"y":0.965},{"x":1.338,"y":0.946},{"x":1.362,"y":0.917},{"x":1.315,"y":0.877},{"x":1.353,"y":0.848},{"x":1.386,"y":0.827},{"x":1.338,"y":0.793},{"x":1.371,"y":0.78},{"x":1.4,"y":0.753},{"x":1.434,"y":0.724},{"x":1.458,"y":0.738},{"x":1.409,"y":0.669},{"x":1.447,"y":0.69},{"x":1.481,"y":0.807},{"x":1.505,"y":0.877},{"x":1.552,"y":0.827},{"x":1.577,"y":0.896},{"x":1.42,"y":0.655},{"x":1.4,"y":0.642},{"x":1.434,"y":0.621},{"x":1.467,"y":0.682}]},
"mark":"circle","encoding":{"x":{"field":"x","type":"quantitative","title":"f₁","scale":{"domain":[0.576,1.886],"nice":false},"axis":{"values":[0.6,0.8,1,1.2,1.4,1.6,1.8]}},"y":{"field":"y","type":"quantitative","title":"f₂","scale":{"domain":[0.621,2.117],"nice":false},"axis":{"values":[0.8,1,1.2,1.4,1.6,1.8,2]}}}}
],"spacing":1}
],"spacing":-2.5}
